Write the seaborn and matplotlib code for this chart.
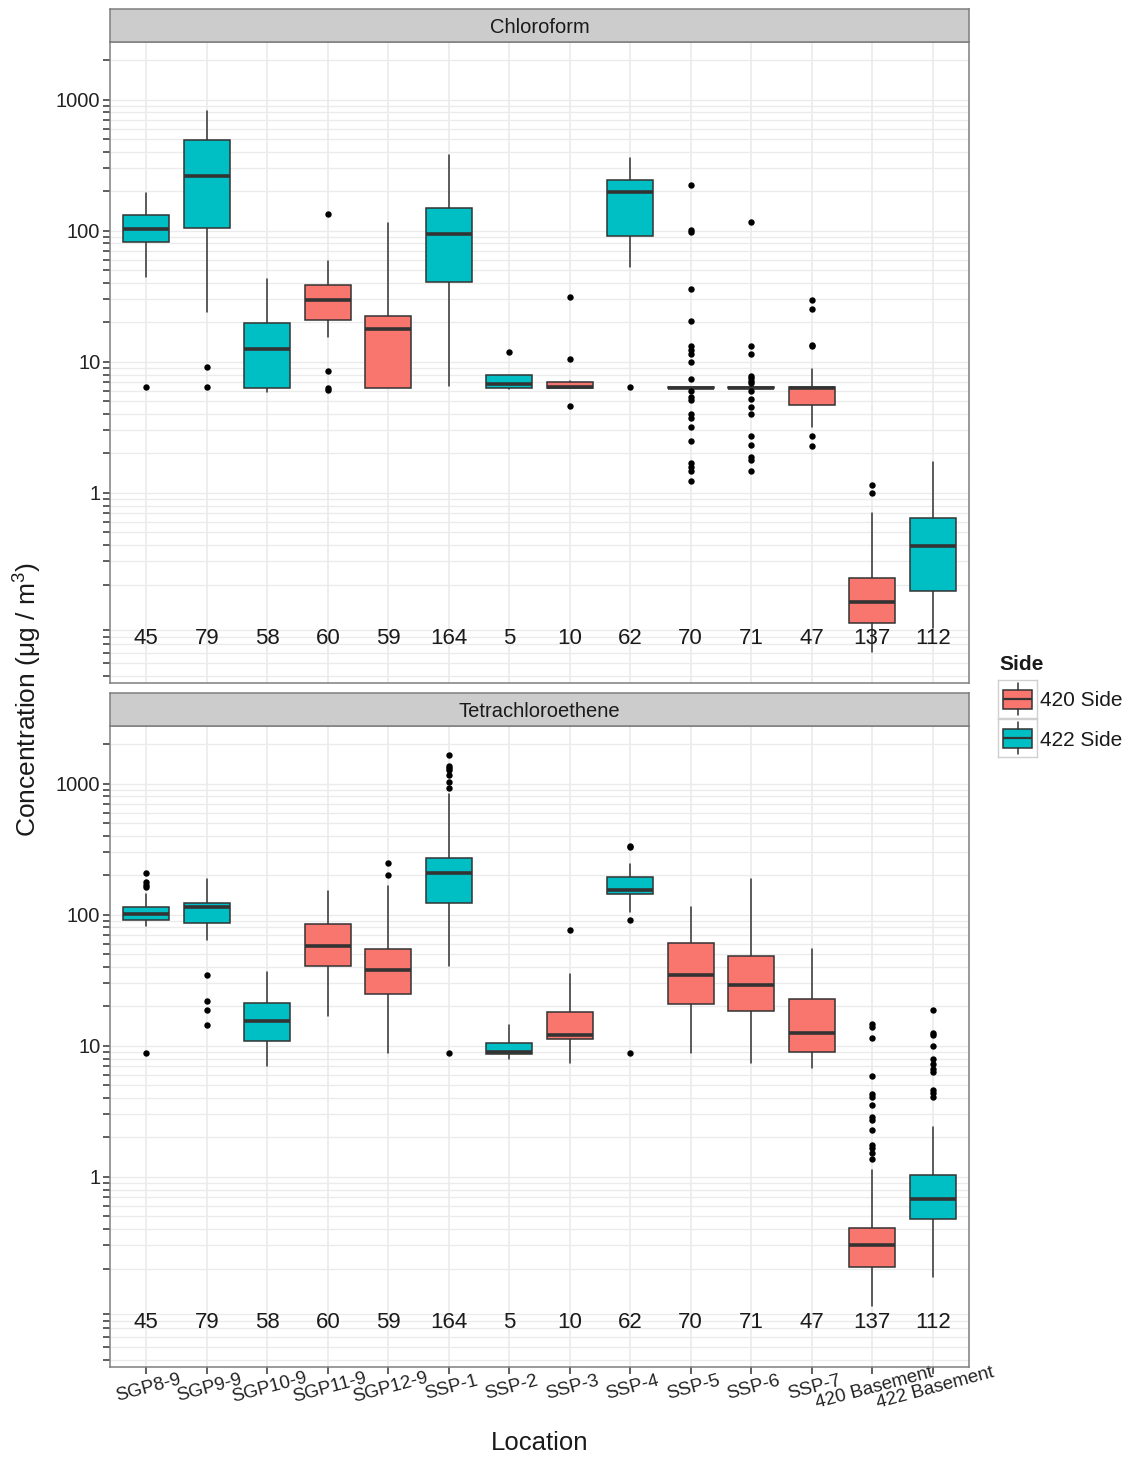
import numpy as np
import pandas as pd
import matplotlib
matplotlib.use("Agg")
import matplotlib.pyplot as plt
from matplotlib.ticker import FixedLocator, FuncFormatter, NullFormatter
import seaborn as sns

# categories and sample sizes
locations = ["SGP8-9", "SGP9-9", "SGP10-9", "SGP11-9", "SGP12-9", "SSP-1", "SSP-2",
             "SSP-3", "SSP-4", "SSP-5", "SSP-6", "SSP-7", "420 Basement", "422 Basement"]
sides = ["422 Side", "422 Side", "422 Side", "420 Side", "420 Side", "422 Side", "422 Side",
         "420 Side", "422 Side", "420 Side", "420 Side", "420 Side", "420 Side", "422 Side"]
counts = [45, 79, 58, 60, 59, 164, 5, 10, 62, 70, 71, 47, 137, 112]

# Chloroform box statistics (ug/m3)
chl_lo = [44.4, 24.1, 5.9, 15.5, 6.3, 6.5, 6.2, 6.3, 52.9, 6.3, 6.3, 3.18, 0.0615, 0.093]
chl_q1 = [82.8, 105, 6.3, 20.9, 6.3, 41, 6.3, 6.3, 90.6, 6.3, 6.3, 4.68, 0.101, 0.18]
chl_med = [103.5, 263, 12.6, 29.4, 17.8, 94.8, 6.8, 6.4, 197, 6.35, 6.35, 6.3, 0.146, 0.394]
chl_q3 = [132, 495, 19.7, 38.7, 22.2, 149, 7.96, 7.08, 245, 6.4, 6.4, 6.4, 0.223, 0.641]
chl_hi = [194, 815, 42.8, 58.7, 115.6, 380, 8.0, 7.1, 359, 6.4, 6.4, 8.8, 0.707, 1.73]
chl_out = [
    [6.4],
    [9.1, 6.4],
    [],
    [134, 8.5, 6.3, 6.1],
    [],
    [],
    [11.8],
    [31.2, 10.5, 4.6],
    [6.4],
    [222, 102, 98, 36, 20.6, 13.1, 12.4, 11.5, 9.9, 7.4, 6.0, 5.35, 5.13, 3.99, 3.72, 3.2,
     2.5, 1.69, 1.59, 1.47, 1.24],
    [116, 13.1, 11.5, 7.85, 7.5, 7.16, 6.87, 6.0, 5.2, 4.5, 3.99, 2.72, 2.32, 1.89, 1.79, 1.47],
    [29.4, 25.3, 13.5, 13.2, 2.72, 2.27],
    [1.15, 1.0],
    [],
]

# Tetrachloroethene box statistics (ug/m3)
pce_lo = [81.5, 64.6, 7.0, 16.8, 8.8, 40.4, 7.9, 7.4, 105, 8.8, 7.4, 6.8, 0.103, 0.172]
pce_q1 = [92, 86.9, 10.9, 40.9, 24.7, 123, 8.6, 11.2, 143, 21, 18.5, 8.9, 0.205, 0.477]
pce_med = [100.5, 115.6, 15.4, 57.4, 38.1, 207, 8.9, 12.2, 155, 34.9, 29.3, 12.6, 0.303, 0.679]
pce_q3 = [113.7, 124, 21.4, 84.7, 54.7, 273, 10.6, 18.0, 193, 61.2, 48.7, 22.6, 0.41, 1.03]
pce_hi = [144.5, 188, 36.5, 153, 167, 835, 14.4, 35.6, 244, 114, 188, 55, 1.13, 2.41]
pce_out = [
    [207, 177, 170, 164, 8.8],
    [34.5, 22, 18.9, 14.4],
    [],
    [],
    [247, 200],
    [1655, 1371, 1318, 1274, 1165, 1035, 920, 8.8],
    [],
    [76.9],
    [337, 330, 91.6, 8.8],
    [],
    [],
    [],
    [14.6, 14.0, 11.5, 5.87, 4.26, 4.08, 3.53, 2.87, 2.74, 2.27, 1.75, 1.67, 1.51, 1.36],
    [18.9, 12.6, 12.0, 9.9, 7.9, 7.25, 6.7, 6.3, 4.6, 4.33, 4.04],
]

palette = {"420 Side": "#F8766D", "422 Side": "#00BFC4"}
edge = "#333333"

sns.set_theme(style="whitegrid")
plt.rcParams["font.family"] = ["Liberation Sans", "DejaVu Sans"]
plt.rcParams["mathtext.default"] = "regular"

W, H = 1131, 1459
fig = plt.figure(figsize=(W / 100, H / 100), dpi=100)


def px(x0, y0, x1, y1):
    # pixel box -> figure fraction rect
    return [x0 / W, 1 - y1 / H, (x1 - x0) / W, (y1 - y0) / H]


def draw_panel(ax, title_ax, title, lo, q1, med, q3, hi, out, show_x):
    fl = pd.DataFrame({
        "Location": [loc for loc, o in zip(locations, out) for _ in o],
        "value": [v for o in out for v in o],
    })
    sns.stripplot(data=fl, x="Location", y="value", order=locations, jitter=False,
                  color="black", size=4.6, linewidth=0, log_scale=True, ax=ax, zorder=4)

    stats = [dict(whislo=a, q1=b, med=c, q3=d, whishi=e, fliers=[])
             for a, b, c, d, e in zip(lo, q1, med, q3, hi)]
    bp = ax.bxp(stats, positions=range(len(locations)), widths=0.76, patch_artist=True,
                showfliers=False, showcaps=False, manage_ticks=False,
                boxprops=dict(edgecolor=edge, linewidth=1.1),
                medianprops=dict(color=edge, linewidth=2.6),
                whiskerprops=dict(color=edge, linewidth=1.1))
    for box, s in zip(bp["boxes"], sides):
        box.set_facecolor(palette[s])
        box.set_zorder(3)
    for m in bp["medians"]:
        m.set_zorder(3.5)

    for i, n in enumerate(counts):
        ax.text(i, 0.078, str(n), ha="center", va="center", fontsize=16, color="#1a1a1a", zorder=5)

    ax.set_xlim(-0.6, len(locations) - 0.4)
    ax.set_ylim(10 ** -1.45, 10 ** 3.44)
    ax.yaxis.set_major_locator(FixedLocator([1, 10, 100, 1000]))
    ax.yaxis.set_major_formatter(FuncFormatter(lambda v, p: f"{v:g}"))
    minors = [m * 10.0 ** k for k in range(-2, 4) for m in range(2, 10)]
    ax.yaxis.set_minor_locator(FixedLocator(minors))
    ax.yaxis.set_minor_formatter(NullFormatter())
    ax.tick_params(axis="y", which="both", length=5, width=1.1, color=edge, left=True,
                   labelsize=14.5, labelcolor="#222222", pad=2)
    ax.grid(False)
    ax.grid(True, which="major", axis="x", color="#EBEBEB", linewidth=1.2, zorder=0)
    ax.grid(True, which="both", axis="y", color="#EBEBEB", linewidth=1.0, zorder=0)
    ax.set_axisbelow(True)
    ax.set_xlabel("")
    ax.set_ylabel("")
    for sp in ax.spines.values():
        sp.set_visible(True)
        sp.set_color("#7F7F7F")
        sp.set_linewidth(1.1)

    if show_x:
        ax.set_xticks(range(len(locations)))
        ax.set_xticklabels(locations, rotation=15, ha="center", va="top",
                           rotation_mode="anchor", fontsize=13.5, color="#222222")
        ax.tick_params(axis="x", length=5, width=1.1, color=edge, bottom=True, pad=4)
    else:
        ax.tick_params(axis="x", length=0, labelbottom=False)

    title_ax.set_facecolor("#CCCCCC")
    title_ax.set_xticks([])
    title_ax.set_yticks([])
    for sp in title_ax.spines.values():
        sp.set_color("#7F7F7F")
        sp.set_linewidth(1.1)
    title_ax.text(0.5, 0.45, title, ha="center", va="center", fontsize=14.5,
                  color="#1a1a1a", transform=title_ax.transAxes)


ax_top = fig.add_axes(px(110, 42, 969, 683))
strip_top = fig.add_axes(px(110, 9, 969, 42))
ax_bot = fig.add_axes(px(110, 726, 969, 1367))
strip_bot = fig.add_axes(px(110, 693, 969, 726))

draw_panel(ax_top, strip_top, "Chloroform", chl_lo, chl_q1, chl_med, chl_q3, chl_hi, chl_out, False)
draw_panel(ax_bot, strip_bot, "Tetrachloroethene", pce_lo, pce_q1, pce_med, pce_q3, pce_hi, pce_out, True)

fig.text(28 / W, 1 - 700 / H, "Concentration (μg / m$^{3}$)", rotation=90,
         ha="center", va="center", fontsize=19, color="#1a1a1a")
fig.text(540 / W, 1 - 1443 / H, "Location", ha="center", va="center", fontsize=18.5,
         color="#1a1a1a")

# legend drawn as two small boxplot keys
fig.text(999 / W, 1 - 664 / H, "Side", ha="left", va="center", fontsize=15,
         fontweight="bold", color="#1a1a1a")
for j, s in enumerate(["420 Side", "422 Side"]):
    y0 = 680 + j * 39
    kax = fig.add_axes(px(998, y0, 1037, y0 + 38))
    kax.set_xlim(0, 1)
    kax.set_ylim(0, 1)
    kax.bxp([dict(whislo=0.08, q1=0.25, med=0.5, q3=0.75, whishi=0.92, fliers=[])],
            positions=[0.5], widths=0.76, patch_artist=True, showfliers=False,
            showcaps=False, manage_ticks=False,
            boxprops=dict(facecolor=palette[s], edgecolor=edge, linewidth=1.1),
            medianprops=dict(color=edge, linewidth=1.6),
            whiskerprops=dict(color=edge, linewidth=1.1))
    kax.set_xticks([])
    kax.set_yticks([])
    kax.grid(False)
    kax.set_facecolor("white")
    for sp in kax.spines.values():
        sp.set_color("#D0D0D0")
        sp.set_linewidth(1.0)
    fig.text(1040 / W, 1 - (y0 + 21) / H, s, ha="left", va="center", fontsize=15,
             color="#1a1a1a")

fig.savefig("out.png", dpi=100)
